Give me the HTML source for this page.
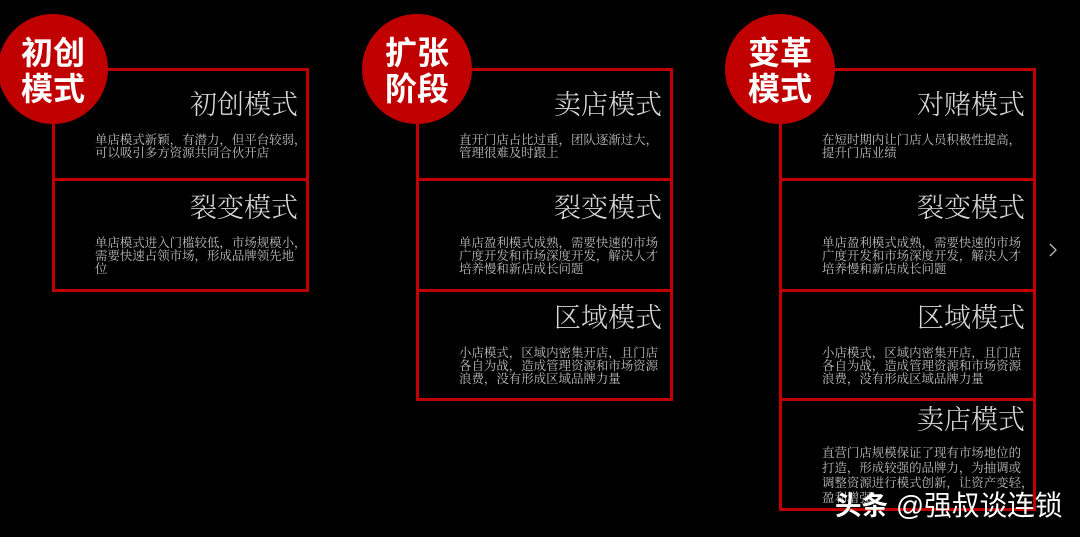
<!DOCTYPE html>
<html lang="zh-CN">
<head>
<meta charset="utf-8">
<style>
html,body{margin:0;padding:0;background:#000;}
body{width:1080px;height:537px;position:relative;overflow:hidden;text-spacing-trim:space-all;}
.b{position:absolute;border:3px solid #c00000;box-sizing:border-box;}
.c{position:absolute;width:110px;height:110px;border-radius:50%;background:#c00000;top:14px;}
.ct{position:absolute;font:700 32px/36px "Liberation Sans","Noto Sans CJK SC",sans-serif;color:#fff;text-align:center;width:110px;top:35px;white-space:nowrap;}
.t{position:absolute;font:300 27px/32px "Liberation Serif","Noto Serif CJK SC",serif;color:#d9d9d9;text-align:right;width:200px;white-space:nowrap;}
.p{position:absolute;font:400 12.45px/13px "Liberation Serif","Noto Serif CJK SC",serif;color:#bfbfbf;white-space:nowrap;}
.wm{position:absolute;color:#fff;white-space:nowrap;font-family:"Liberation Sans","Noto Sans CJK SC",sans-serif;}
</style>
</head>
<body>
<!-- Column 1 -->
<div class="b" style="left:52px;top:68px;width:257px;height:113px"></div>
<div class="b" style="left:52px;top:178px;width:257px;height:114px"></div>
<div class="c" style="left:-2px"></div>
<div class="ct" style="left:-2px">初创<br>模式</div>
<div class="t" style="left:98px;top:89px">初创模式</div>
<div class="p" style="left:95px;top:134px">单店模式新颖&#65292;有潜力&#65292;但平台较弱&#65292;<br>可以吸引多方资源共同合伙开店</div>
<div class="t" style="left:98px;top:192px">裂变模式</div>
<div class="p" style="left:95px;top:237px">单店模式进入门槛较低&#65292;市场规模小&#65292;<br>需要快速占领市场&#65292;形成品牌领先地<br>位</div>

<!-- Column 2 -->
<div class="b" style="left:416px;top:68px;width:257px;height:113px"></div>
<div class="b" style="left:416px;top:178px;width:257px;height:114px"></div>
<div class="b" style="left:416px;top:289px;width:257px;height:112px"></div>
<div class="c" style="left:362px"></div>
<div class="ct" style="left:362px">扩张<br>阶段</div>
<div class="t" style="left:462px;top:89px">卖店模式</div>
<div class="p" style="left:459px;top:134px">直开门店占比过重&#65292;团队逐渐过大&#65292;<br>管理很难及时跟上</div>
<div class="t" style="left:462px;top:192px">裂变模式</div>
<div class="p" style="left:459px;top:237px">单店盈利模式成熟&#65292;需要快速的市场<br>广度开发和市场深度开发&#65292;解决人才<br>培养慢和新店成长问题</div>
<div class="t" style="left:462px;top:302px">区域模式</div>
<div class="p" style="left:459px;top:347px">小店模式&#65292;区域内密集开店&#65292;且门店<br>各自为战&#65292;造成管理资源和市场资源<br>浪费&#65292;没有形成区域品牌力量</div>

<!-- Column 3 -->
<div class="b" style="left:779px;top:68px;width:257px;height:113px"></div>
<div class="b" style="left:779px;top:178px;width:257px;height:114px"></div>
<div class="b" style="left:779px;top:289px;width:257px;height:112px"></div>
<div class="b" style="left:779px;top:398px;width:257px;height:113px"></div>
<div class="c" style="left:725px"></div>
<div class="ct" style="left:725px">变革<br>模式</div>
<div class="t" style="left:825px;top:89px">对赌模式</div>
<div class="p" style="left:822px;top:134px">在短时期内让门店人员积极性提高&#65292;<br>提升门店业绩</div>
<div class="t" style="left:825px;top:192px">裂变模式</div>
<div class="p" style="left:822px;top:237px">单店盈利模式成熟&#65292;需要快速的市场<br>广度开发和市场深度开发&#65292;解决人才<br>培养慢和新店成长问题</div>
<div class="t" style="left:825px;top:302px">区域模式</div>
<div class="p" style="left:822px;top:347px">小店模式&#65292;区域内密集开店&#65292;且门店<br>各自为战&#65292;造成管理资源和市场资源<br>浪费&#65292;没有形成区域品牌力量</div>
<div class="t" style="left:825px;top:404px">卖店模式</div>
<div class="p" style="left:822px;top:446px;line-height:15px">直营门店规模保证了现有市场地位的<br>打造&#65292;形成较强的品牌力&#65292;为抽调或<br>调整资源进行模式创新&#65292;让资产变轻&#65292;<br>盈利增强</div>

<!-- Chevron -->
<svg style="position:absolute;left:1046px;top:243px" width="14" height="14" viewBox="0 0 14 14">
<polyline points="4,1 10,7 4,13" fill="none" stroke="#bfbfbf" stroke-width="1.3"/>
</svg>

<!-- Watermark -->
<div class="wm" style="left:835px;top:488px;font-size:26.5px;line-height:36px;font-weight:700">头条</div>
<div class="wm" style="left:896px;top:488px;font-size:27.7px;line-height:36px;font-weight:400">@强叔谈连锁</div>
</body>
</html>
